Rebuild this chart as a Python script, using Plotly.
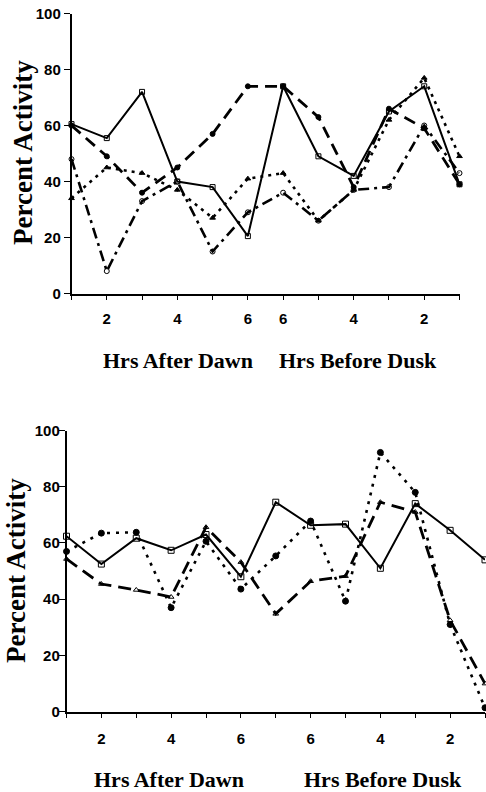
import plotly.graph_objects as go

# ---------------- data ----------------
top_x = list(range(12))
top_ticktext = ["", "2", "", "4", "", "6", "6", "", "4", "", "2", ""]
top_solid = [60.5, 55.5, 72, 40, 38, 20.5, 74, 49, 42, 65, 74, 39]
top_longdash = [60, 49, 36, 45, 57, 74, 74, 63, 38, 66, 59, 39]
top_dotted = [34, 45, 43, 37, 27, 41, 43, 26, 37, 62, 77, 49]
top_dashdot = [48, 8, 33, 40, 15, 29, 36, 26, 37, 38, 60, 43]

bot_x = list(range(13))
bot_ticktext = ["", "2", "", "4", "", "6", "", "6", "", "4", "", "2", ""]
bot_solid = [62.4, 52.5, 61.7, 57.4, 63, 48, 74.5, 66.3, 66.7, 51, 74, 64.5, 54]
bot_dotted = [57, 63.5, 63.8, 37, 60.6, 43.6, 55.4, 67.8, 39.3, 92.2, 78, 31, 1.4]
bot_longdash = [54.3, 45.4, 43.3, 40.8, 65.6, 53.2, 34.8, 46.4, 48.2, 74.5, 71, 32.5, 10]

W, H = 486, 792

def px_x(p):
    return p / W

def px_y(p):
    return 1 - p / H

fig = go.Figure()

def add(x, y, dash, symbol, xa, ya, width=2.2, size=5):
    fig.add_trace(go.Scatter(
        x=x, y=y, mode="lines+markers", xaxis=xa, yaxis=ya,
        line=dict(color="black", width=width, dash=dash),
        marker=dict(symbol=symbol, size=size, color="black",
                    line=dict(color="black", width=1)),
        cliponaxis=False, showlegend=False, hoverinfo="skip"))

add(top_x, top_solid, "solid", "square-open", "x", "y", 2)
add(top_x, top_longdash, "12px,7px", "circle", "x", "y", 2.8)
add(top_x, top_dotted, "3px,5px", "triangle-up", "x", "y", 2.6)
add(top_x, top_dashdot, "11px,5px,3px,5px", "circle-open", "x", "y", 2.6)

add(bot_x, bot_solid, "solid", "square-open", "x2", "y2", 2, 6)
add(bot_x, bot_dotted, "3px,6px", "circle", "x2", "y2", 2.6, 6)
add(bot_x, bot_longdash, "13px,7px", "triangle-up-open", "x2", "y2", 2.8, 5)

tickfont = dict(family="Liberation Sans, Arial", size=15, color="black", weight="bold")

xcommon = dict(showgrid=False, zeroline=False, showline=True, linecolor="black",
               linewidth=1.5, ticks="outside", ticklen=5, tickwidth=1.2,
               tickcolor="black", tickfont=tickfont, ticklabelstandoff=6,
               automargin=False, ticklabeloverflow="allow")
ycommon = dict(showgrid=False, zeroline=False, showline=True, linecolor="black",
               linewidth=1.5, ticks="outside", ticklen=6, tickwidth=1.2,
               tickcolor="black", tickfont=tickfont, range=[0, 100],
               tickvals=[0, 20, 40, 60, 80, 100], ticklabelstandoff=0,
               automargin=False, ticklabeloverflow="allow")

fig.update_layout(
    width=W, height=H, margin=dict(l=0, r=0, t=0, b=0, autoexpand=False),
    paper_bgcolor="white", plot_bgcolor="white",
    xaxis=dict(xcommon, domain=[px_x(71.5), px_x(459.5)], range=[0, 11],
               tickvals=top_x, ticktext=top_ticktext, anchor="y"),
    yaxis=dict(ycommon, domain=[px_y(293.5), px_y(13.5)], anchor="x"),
    xaxis2=dict(xcommon, domain=[px_x(66.5), px_x(485)], range=[0, 12],
                tickvals=bot_x, ticktext=bot_ticktext, anchor="y2",
                ticklabelstandoff=8),
    yaxis2=dict(ycommon, domain=[px_y(711.7), px_y(430.5)], anchor="x2",
                ticklabelstandoff=-4),
)

titlefont = dict(family="Liberation Serif, Times New Roman", size=22, color="black")
yfont = dict(family="Liberation Serif, Times New Roman", size=27, color="black")

ann = [
    ("<b>Hrs After Dawn</b>", 178, 360, titlefont, 0),
    ("<b>Hrs Before Dusk</b>", 358, 360, titlefont, 0),
    ("<b>Hrs After Dawn</b>", 169, 779, titlefont, 0),
    ("<b>Hrs Before Dusk</b>", 383, 779, titlefont, 0),
    ("<b>Percent Activity</b>", 23, 153, yfont, -90),
    ("<b>Percent Activity</b>", 16, 571, yfont, -90),
]
for text, x, y, f, ang in ann:
    fig.add_annotation(text=text, x=px_x(x), y=px_y(y), xref="paper", yref="paper",
                       showarrow=False, font=f, textangle=ang,
                       xanchor="center", yanchor="middle")

# remove the browser's default 8px body margin so the figure fills the window
fig.write_html("out.html", config={"displayModeBar": False},
               post_script="document.body.style.margin='0';")
